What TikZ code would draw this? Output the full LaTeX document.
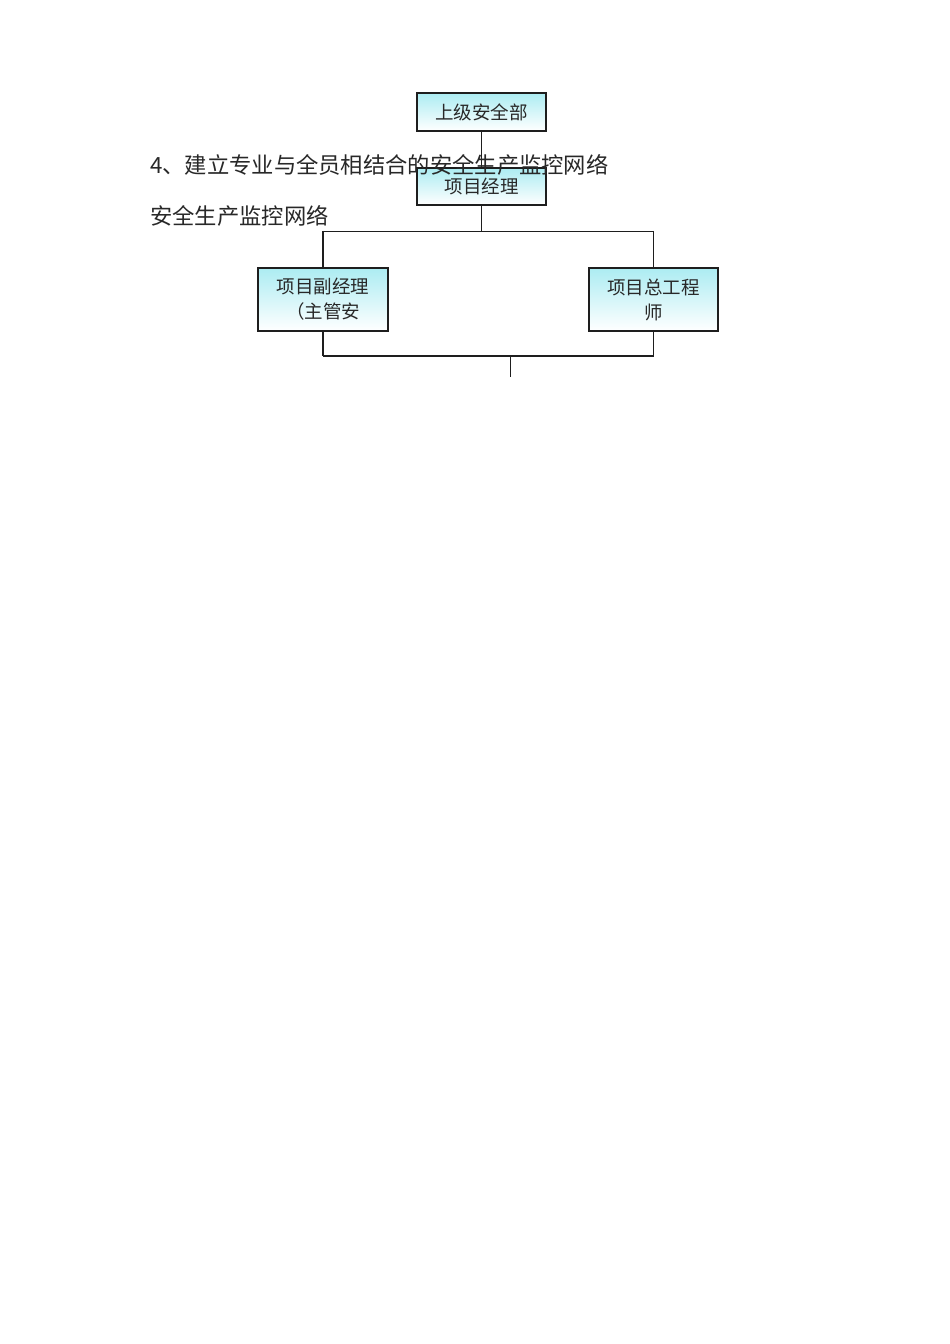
\documentclass[tikz,border=0pt]{standalone}
\usepackage{fontspec}
\setmainfont{Noto Sans CJK SC}
\newfontfamily\cjk{Noto Sans CJK SC}
\definecolor{boxtop}{RGB}{172,236,242}
\definecolor{txt}{RGB}{40,40,40}
\definecolor{ln}{RGB}{30,30,30}
\tikzset{
  orgbox/.style={draw=ln, line width=1.1pt, top color=boxtop, bottom color=white,
    inner sep=0pt, minimum width=129pt, text=txt, align=center,
    font=\cjk\fontsize{18.5}{25}\selectfont},
  thin/.style={draw=ln, line width=0.9pt},
  heavy/.style={draw=ln, line width=2.2pt},
  mid/.style={draw=ln, line width=1.6pt},
  bodytext/.style={anchor=base west, inner sep=0pt, text=txt, font=\cjk\fontsize{22.3}{26}\selectfont}
}
\begin{document}
\begin{tikzpicture}[x=1pt,y=1pt]
\useasboundingbox[fill=white] (0,0) rectangle (950,1344);
\node[orgbox, minimum height=38pt] (b1) at (481.5,1232) {上级安全部};
\node[orgbox, minimum height=37pt] (b2) at (481.5,1157.5) {项目经理};
\node[orgbox, minimum height=63pt, minimum width=130pt] (bl) at (323,1044.5) {项目副经理\\（主管安};
\node[orgbox, minimum height=63pt] (br) at (653.5,1044.5) {项目总工程\\师};
\coordinate (tl) at (323,1113);
\coordinate (tr) at (653.5,1113);
\coordinate (ml) at (323,988);
\coordinate (mr) at (653.5,988);
\coordinate (mm) at (510,988);
\coordinate (me) at (510,967);
\draw[thin] (b1.south) -- (b2.north);
\draw[thin] (b2.south) -- (b2.south |- tl);
\draw[thin] (tl) -- (tr);
\draw[heavy] (tl) -- (bl.north);
\draw[thin] (tr) -- (br.north);
\draw[heavy] (bl.south) -- (ml);
\draw[thin] (br.south) -- (mr);
\draw[mid] (ml) -- (mr);
\draw[thin] (mm) -- (me);
\node[bodytext] (t1) at (150,1170) {4、建立专业与全员相结合的安全生产监控网络};
\node[bodytext] (t2) at (150,1119) {安全生产监控网络};
\end{tikzpicture}
\end{document}
